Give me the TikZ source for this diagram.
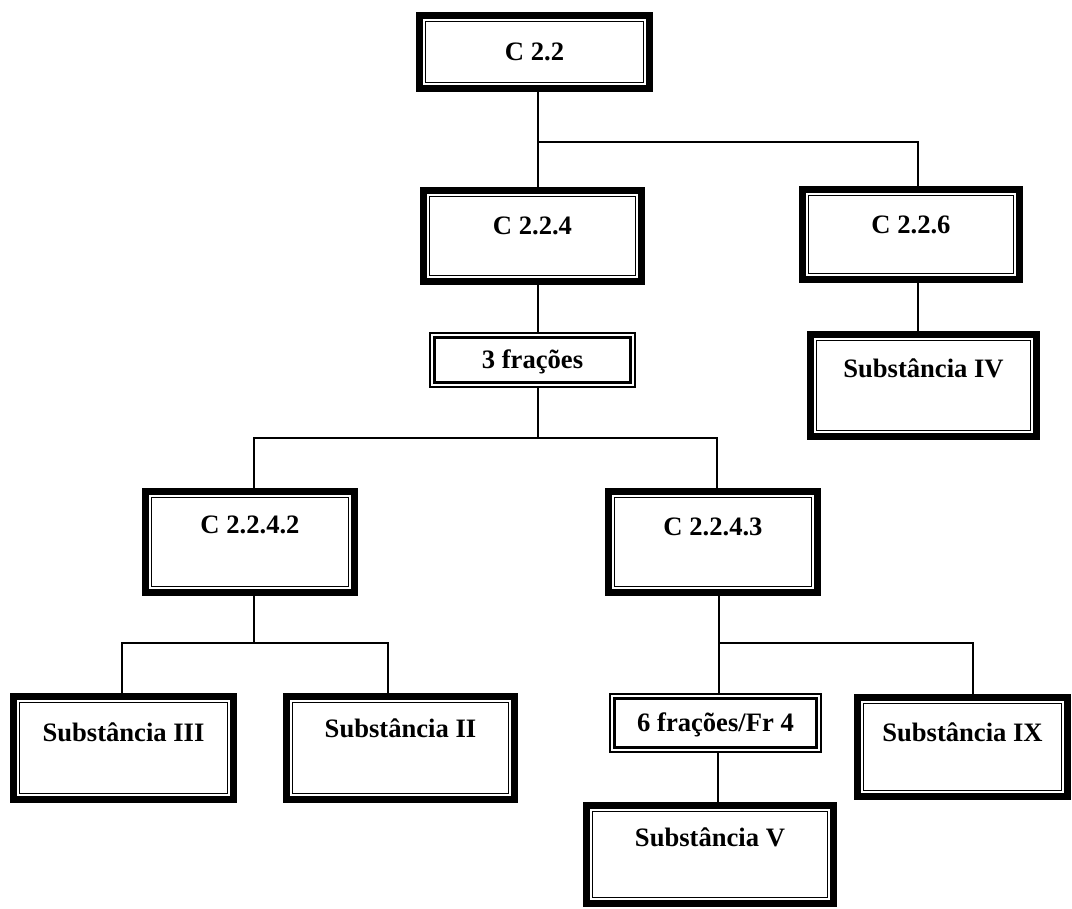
\documentclass[tikz,border=0pt]{standalone}
\usepackage{fontspec}
\setmainfont{Liberation Serif}
\usetikzlibrary{fit}
\tikzset{
  boxarea/.style={inner sep=0pt, outer sep=0pt, draw=none},
  boxtext/.style={font=\bfseries\fontsize{13.3}{16}\selectfont, inner sep=0pt},
  conn/.style={line width=0.65pt},
}
% #1 name, #2 x1, #3 y1, #4 x2, #5 y2, #6 text y, #7 text
\newcommand\heavybox[7]{%
  \coordinate (#1-nw) at (#2,#3);
  \coordinate (#1-se) at (#4,#5);
  \node[boxarea, fit=(#1-nw)(#1-se)] (#1) {};
  \draw[line width=3.5pt] ([shift={(1.75pt,-1.75pt)}]#1.north west) rectangle ([shift={(-1.75pt,1.75pt)}]#1.south east);
  \draw[line width=0.65pt] ([shift={(4.8pt,-4.8pt)}]#1.north west) rectangle ([shift={(-4.8pt,4.8pt)}]#1.south east);
  \node[boxtext] (#1-t) at ({(#2+#4)/2},#6) {#7};
}
\newcommand\lightbox[7]{%
  \coordinate (#1-nw) at (#2,#3);
  \coordinate (#1-se) at (#4,#5);
  \node[boxarea, fit=(#1-nw)(#1-se)] (#1) {};
  \draw[line width=1.2pt] ([shift={(0.6pt,-0.6pt)}]#1.north west) rectangle ([shift={(-0.6pt,0.6pt)}]#1.south east);
  \draw[line width=1.2pt] ([shift={(2.8pt,-2.8pt)}]#1.north west) rectangle ([shift={(-2.8pt,2.8pt)}]#1.south east);
  \node[boxtext] (#1-t) at ({(#2+#4)/2},#6) {#7};
}
\begin{document}
\begin{tikzpicture}[x=0.5pt,y=-0.5pt]
\useasboundingbox (0,0) rectangle (1072,909);
\fill[white] (0,0) rectangle (1072,909);

\heavybox{c22}{416}{12}{653}{92}{52}{C 2.2}
\heavybox{c224}{420}{187}{645}{285}{226}{C 2.2.4}
\heavybox{c226}{799}{186}{1023}{283}{225}{C 2.2.6}
\lightbox{f3}{429}{332}{636}{388}{362}{3 frações}
\heavybox{s4}{807}{331}{1040}{440}{368}{Substância IV}
\heavybox{c2242}{142}{488}{358}{596}{525}{C 2.2.4.2}
\heavybox{c2243}{605}{488}{821}{596}{527}{C 2.2.4.3}
\heavybox{s3}{10}{693}{237}{803}{732}{Substância III}
\heavybox{s2}{283}{693}{518}{803}{728}{Substância II}
\lightbox{f6}{609}{693}{822}{753}{725}{6 frações/Fr 4}
\heavybox{s9}{854}{694}{1071}{800}{732}{Substância IX}
\heavybox{s5}{583}{802}{837}{907}{837}{Substância V}

\coordinate (j1) at (538,142);
\coordinate (j2) at (538,438);
\coordinate (j3) at (254,643);
\coordinate (j4) at (719,643);

\draw[conn] (538,0 |- c22.south) -- (538,0 |- c224.north);
\draw[conn] (j1) -| (918,0 |- c226.north);
\draw[conn] (918,0 |- c226.south) -- (918,0 |- s4.north);
\draw[conn] (538,0 |- c224.south) -- (538,0 |- f3.north);
\draw[conn] (538,0 |- f3.south) -- (j2);
\draw[conn] (j2) -| (254,0 |- c2242.north);
\draw[conn] (j2) -| (717,0 |- c2243.north);
\draw[conn] (254,0 |- c2242.south) -- (j3);
\draw[conn] (j3) -| (122,0 |- s3.north);
\draw[conn] (j3) -| (388,0 |- s2.north);
\draw[conn] (719,0 |- c2243.south) -- (719,0 |- f6.north);
\draw[conn] (j4) -| (973,0 |- s9.north);
\draw[conn] (718,0 |- f6.south) -- (718,0 |- s5.north);
\end{tikzpicture}
\end{document}
